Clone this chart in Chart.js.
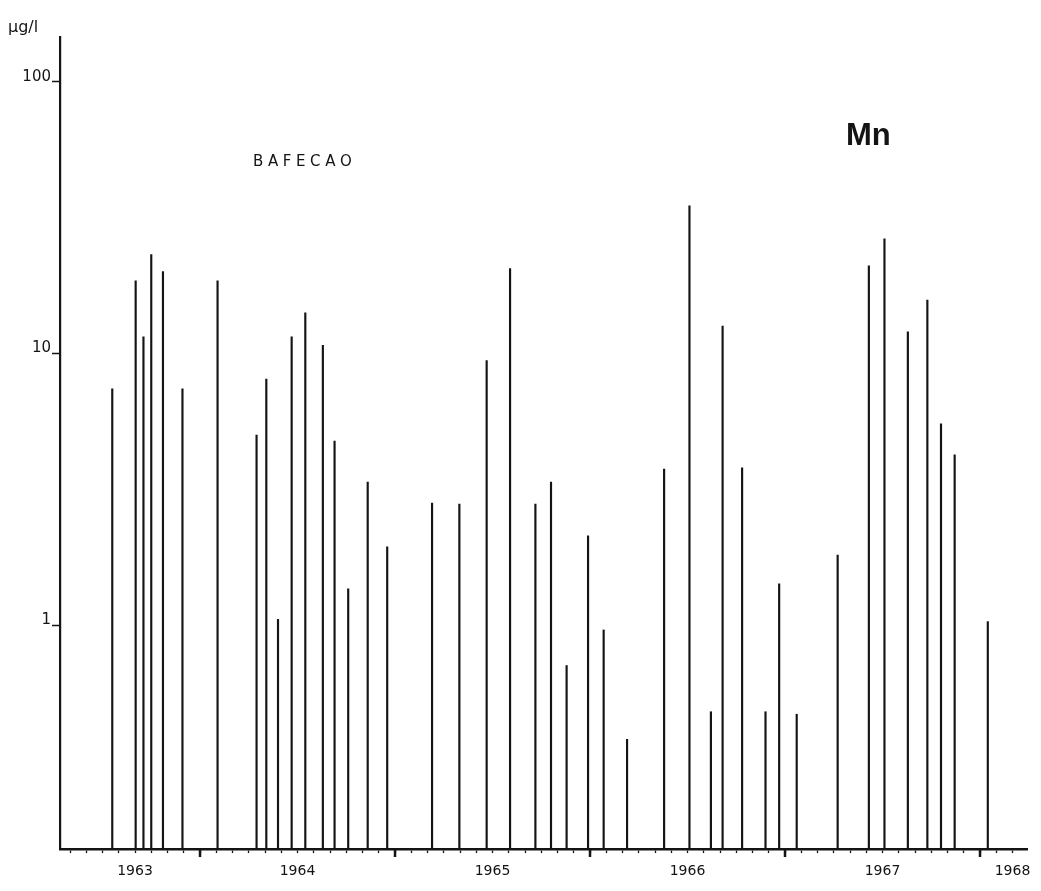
<!DOCTYPE html>
<html>
<head>
<meta charset="utf-8">
<title>Mn - BAFECAO</title>
<script src="https://cdn.jsdelivr.net/npm/chart.js@4.4.1/dist/chart.umd.min.js"></script>
<style>
  html, body { margin: 0; padding: 0; background: #fff; }
  #wrap { width: 1041px; height: 891px; }
</style>
</head>
<body>
<div id="wrap"><canvas id="mnChart"></canvas></div>
<script>
// sampling dates (decimal years) and Mn content in µg/l
const sampleYears = [
    1963.55, 1963.67, 1963.71, 1963.75, 1963.81, 1963.91, 1964.09, 1964.29, 1964.34, 1964.40,
    1964.47, 1964.54, 1964.63, 1964.69, 1964.76, 1964.86, 1964.96, 1965.19, 1965.33, 1965.47,
    1965.59, 1965.72, 1965.80, 1965.88, 1965.99, 1966.07, 1966.19, 1966.38, 1966.51, 1966.62,
    1966.68, 1966.78, 1966.90, 1966.97, 1967.06, 1967.27, 1967.43, 1967.51, 1967.63, 1967.73,
    1967.80, 1967.87, 1968.04
];
const mnValues = [
    7.4, 18.5, 11.5, 23.1, 20.0, 7.4, 18.5, 5.0, 8.05, 1.05,
    11.5, 14.1, 10.7, 4.76, 1.36, 3.36, 1.94, 2.81, 2.79, 9.4,
    20.5, 2.79, 3.36, 0.71, 2.13, 0.96, 0.38, 3.75, 34.9, 0.48,
    12.6, 3.79, 0.48, 1.42, 0.47, 1.81, 21.0, 26.4, 12.0, 15.7,
    5.5, 4.23, 1.03
];
const yearLabels = ["1963", "1964", "1965", "1966", "1967", "1968"];
const yTickValues = [1, 10, 100];

const INK = "#141414";
const TICK_FONT = "'DejaVu Sans', sans-serif";

// month (0-11) under which each year label sits; the clipped first/last years are shifted
const labelMonth = { 1963: 8, 1968: 2 };

const points = sampleYears.map((yr, i) => ({ x: yr, y: mnValues[i] }));

const notesPlugin = {
    id: "notes",
    afterDraw(chart) {
        const ctx = chart.ctx;
        const area = chart.chartArea;
        const xScale = chart.scales.x;
        ctx.save();

        // longer, heavier tick at each new year
        ctx.strokeStyle = INK;
        ctx.lineWidth = 2.5;
        for (let yr = Math.ceil(xScale.min); yr <= xScale.max; yr++) {
            const px = xScale.getPixelForValue(yr);
            ctx.beginPath();
            ctx.moveTo(px, area.bottom);
            ctx.lineTo(px, area.bottom + 8);
            ctx.stroke();
        }

        ctx.fillStyle = INK;
        ctx.textBaseline = "alphabetic";

        ctx.font = "16px " + TICK_FONT;
        ctx.fillText("µg/l", 8, 32);

        // station name, spaced out like the original lettering
        ctx.font = "15px " + TICK_FONT;
        let cx = 253;
        for (const ch of "BAFECAO") {
            ctx.fillText(ch, cx, 166);
            cx += ctx.measureText(ch).width + 4.6;
        }

        ctx.font = "bold 31px 'Liberation Sans', Arial, sans-serif";
        ctx.fillText("Mn", 846, 145);
        ctx.restore();
    }
};

new Chart(document.getElementById("mnChart"), {
    type: "bar",
    data: {
        datasets: [{
            data: points,
            backgroundColor: INK,
            borderWidth: 0,
            barThickness: 1.5,
        }],
    },
    options: {
        responsive: true,
        maintainAspectRatio: false,
        animation: false,
        events: [],
        layout: { padding: { top: 37, right: 14, left: 0, bottom: 0 } },
        plugins: {
            legend: { display: false },
            tooltip: { enabled: false },
        },
        scales: {
            x: {
                type: "linear",
                offset: false,
                min: 1963.282,
                max: 1968.241,
                afterBuildTicks(scale) {
                    const ticks = [];
                    for (let k = Math.ceil(scale.min * 12); k <= Math.floor(scale.max * 12); k++) {
                        ticks.push({ value: k / 12 });
                    }
                    scale.ticks = ticks;
                },
                afterFit(scale) { scale.height = 42; },
                border: { color: INK, width: 2.5 },
                grid: {
                    offset: false,
                    drawOnChartArea: false,
                    drawTicks: true,
                    tickLength: 4,
                    tickColor: INK,
                    tickWidth: 1.3,
                },
                ticks: {
                    autoSkip: false,
                    maxRotation: 0,
                    padding: 10,
                    color: INK,
                    font: { family: TICK_FONT, size: 14 },
                    callback(value) {
                        const k = Math.round(value * 12);
                        const yr = Math.floor(k / 12);
                        const m = k - yr * 12;
                        const want = labelMonth[yr] !== undefined ? labelMonth[yr] : 6;
                        return m === want && yearLabels.includes(String(yr)) ? String(yr) : "";
                    },
                },
            },
            y: {
                type: "logarithmic",
                min: 0.15,
                max: 146,
                afterBuildTicks(scale) {
                    scale.ticks = yTickValues.map(v => ({ value: v }));
                },
                afterFit(scale) { scale.width = 60; },
                border: { color: INK, width: 2.2 },
                grid: {
                    drawOnChartArea: false,
                    drawTicks: true,
                    tickLength: 8,
                    tickColor: INK,
                    tickWidth: 1.5,
                },
                ticks: {
                    padding: 1,
                    labelOffset: -5,
                    color: INK,
                    font: { family: TICK_FONT, size: 15 },
                    callback(value) { return String(value); },
                },
            },
        },
    },
    plugins: [notesPlugin],
});
</script>
</body>
</html>
